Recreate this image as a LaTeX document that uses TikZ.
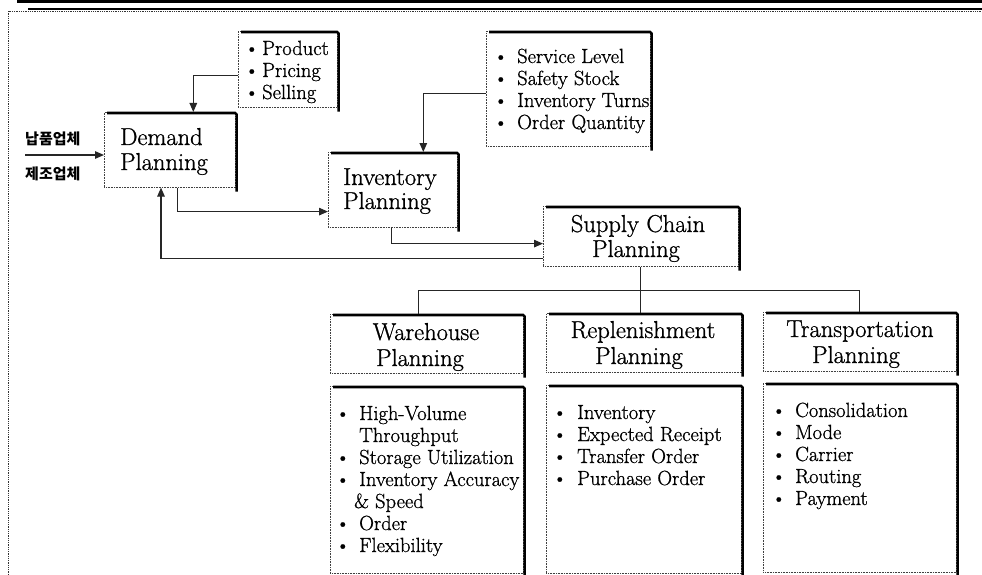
\documentclass[tikz,border=0pt]{standalone}
\usepackage{fontspec}
\setmainfont{Latin Modern Roman}[FakeBold=0.9]
\newfontfamily\kr{Noto Sans CJK KR}
\usetikzlibrary{calc,arrows.meta}
\tikzset{
  box/.style={draw=black!75, densely dotted, line width=0.6pt, fill=white, inner sep=0pt, anchor=north west},
  shadowline/.style={line width=2.6pt, black, rounded corners=1.5pt},
  conn/.style={line width=1.2pt, black!85},
  arr/.style={conn, -{Triangle[length=9pt,width=7.5pt]}},
  ttl/.style={font=\fontsize{24.5}{25}\selectfont, inner sep=0pt, anchor=base},
  ttlw/.style={ttl, anchor=base west},
  itm/.style={font=\fontsize{20.5}{22}\selectfont, inner sep=0pt, anchor=base west},
  krlab/.style={font=\kr\bfseries\fontsize{15}{16}\selectfont, inner sep=0pt, anchor=west},
}
\newcommand\pbox[5]{\node[box, minimum width=#4, minimum height=#5] (#1) at (#2,#3) {};}
\newcommand\bul[1]{\llap{\textbullet\hspace*{#1}}}
\begin{document}
\begin{tikzpicture}[x=1pt,y=-1pt]
\useasboundingbox (0,0) rectangle (982,575);
\fill[white] (0,0) rectangle (982,575);
% frame
\fill[black] (17,0.5) rectangle (982,3);
\draw[line width=2pt] (28,9.5) -- (982,9.5);
\draw[densely dotted, line width=0.8pt, black!80] (8.5,575) -- (8.5,11.5) -- (982,11.5);

% boxes
\pbox{prod}{238}{31}{99}{76}
\pbox{dem}{104}{112}{131}{75}
\pbox{serv}{486}{31}{164}{115}
\pbox{inv}{328}{152}{129}{75}
\pbox{scp}{543}{206}{195}{60}
\pbox{wh}{330}{314}{193}{59}
\pbox{rp}{546}{313}{195}{59}
\pbox{tp}{763}{312}{193}{59}
\pbox{whd}{330}{386}{193}{187}
\pbox{rpd}{546}{385}{195}{188}
\pbox{tpd}{763}{383}{193}{189}
\foreach \b in {prod,dem,serv,inv,scp,wh,rp,tp,whd,rpd,tpd}
  \draw[shadowline] ($(\b.north west)+(3,1)$) -- ($(\b.north east)+(1,1)$) -- ($(\b.south east)+(1,4)$);

% texts
\foreach \t [count=\i from 0] in {Product,Pricing,Selling}
  \node[itm] (pr\i) at (262,55+22*\i) {\bul{3pt}\t};
\foreach \t [count=\i from 0] in {Service Level,Safety Stock,Inventory Turns,Order Quantity}
  \node[itm] (sv\i) at (517,63+22*\i) {\bul{9pt}\t};
\node[ttlw] (demA) at (120,145) {Demand};
\node[ttlw] (demB) at (120,170) {Planning};
\node[ttlw] (invA) at (343,185) {Inventory};
\node[ttlw] (invB) at (343,209) {Planning};
\node[ttl] (scpA) at (638,232) {Supply Chain};
\node[ttl] (scpB) at (636,257) {Planning};
\node[ttl] (whA) at (426,340) {Warehouse};
\node[ttl] (whB) at (420,366) {Planning};
\node[ttl] (rpA) at (643,338) {Replenishment};
\node[ttl] (rpB) at (639,364) {Planning};
\node[ttl] (tpA) at (860,337) {Transportation};
\node[ttl] (tpB) at (856,363) {Planning};

\node[itm] (w0) at (359,420) {\bul{9pt}High-Volume};
\node[itm] (w1) at (359,442) {Throughput};
\node[itm] (w2) at (359,464) {\bul{9pt}Storage Utilization};
\node[itm] (w3) at (359,486) {\bul{9pt}Inventory Accuracy};
\node[itm] (w4) at (354,508) {\& Speed};
\node[itm] (w5) at (359,530) {\bul{9pt}Order};
\node[itm] (w6) at (359,552) {\bul{9pt}Flexibility};
\foreach \t [count=\i from 0] in {Inventory,Expected Receipt,Transfer Order,Purchase Order}
  \node[itm] (r\i) at (577,419+22*\i) {\bul{10pt}\t};
\foreach \t [count=\i from 0] in {Consolidation,Mode,Carrier,Routing,Payment}
  \node[itm] (t\i) at (795,417+22*\i) {\bul{9pt}\t};

\node[krlab] (k1) at (25,139) {납품업체};
\node[krlab] (k2) at (25,174) {제조업체};
\coordinate (src) at (25,155);

% connectors
\draw[arr] (src) -- (src -| dem.west);
\draw[arr] ([yshift=-6pt]prod.west) -| ([xshift=23.5pt]dem.north);
\draw[arr] ([yshift=-4.5pt]serv.west) -| ([xshift=30.5pt]inv.north);
\draw[arr] ([xshift=7.5pt]dem.south) |- ($(inv.south west)+(0,-16)$);
\draw[arr] ([xshift=-1.5pt]inv.south) |- ($(scp.south west)+(0,-23)$);
\draw[arr] ($(scp.south west)+(0,-8)$) -| ($(dem.south west)+(57,0)$);
\coordinate (br) at ($(scp.south)+(0,24)$);
\draw[conn] (scp.south) -- (scp.south |- rp.north);
\draw[conn] ([xshift=-8.5pt]wh.north) |- (br) -| (tp.north);
\end{tikzpicture}
\end{document}
